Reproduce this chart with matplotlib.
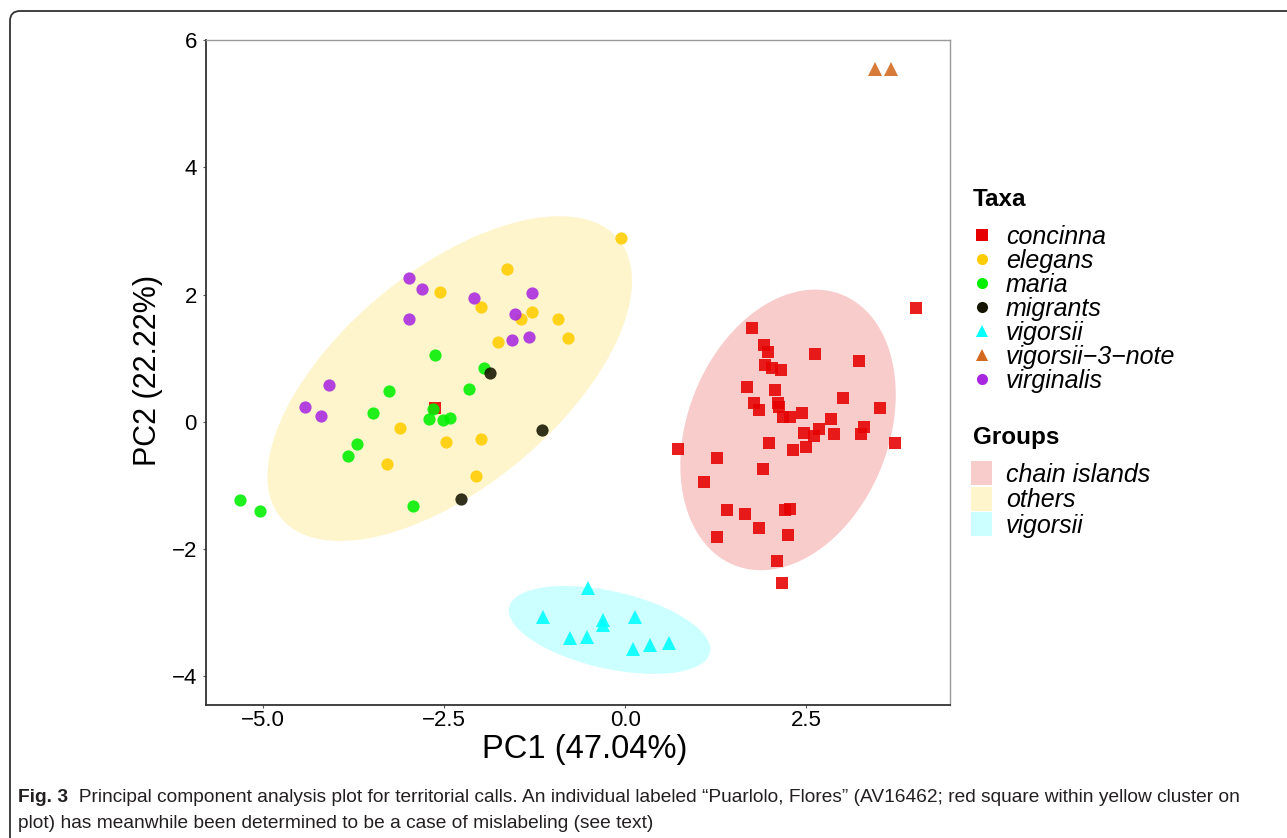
import numpy as np
import matplotlib
matplotlib.use("Agg")
import matplotlib.pyplot as plt
from matplotlib.lines import Line2D
from matplotlib.patches import Patch, Polygon, FancyBboxPatch
from matplotlib.transforms import IdentityTransform

# PCA scores, one pair of lists per taxon
concinna_x = [4.01, 1.75, 1.92, 1.97, 2.62, 3.23, 1.93, 2.02, 2.15, 1.68, 2.06, 3.01,
              1.78, 1.84, 2.11, 2.12, 3.51, 2.44, 2.18, 2.27, 2.84, 3.30, 3.25, 2.68,
              2.46, 2.60, 2.88, 3.72, 0.73, 1.99, 2.50, 2.31, 1.26, 1.90, 1.09, 1.40,
              1.65, 2.21, 2.28, 1.84, 1.27, 2.25, 2.09, 2.17]
concinna_y = [1.79, 1.47, 1.20, 1.10, 1.07, 0.95, 0.89, 0.85, 0.81, 0.55, 0.50, 0.37,
              0.29, 0.19, 0.29, 0.24, 0.21, 0.14, 0.07, 0.08, 0.04, -0.08, -0.19, -0.11,
              -0.18, -0.22, -0.19, -0.34, -0.43, -0.34, -0.39, -0.44, -0.57, -0.74, -0.94, -1.38,
              -1.45, -1.39, -1.37, -1.67, -1.81, -1.78, -2.19, -2.53]
# the mislabeled "Puarlolo, Flores" bird (red square inside the yellow cluster)
mislabeled_x = [-2.62]
mislabeled_y = [0.21]

elegans_x = [-0.06, -1.63, -2.55, -1.99, -1.29, -1.43, -0.92, -1.75, -0.79, -3.10,
             -2.47, -1.99, -3.29, -2.06]
elegans_y = [2.89, 2.40, 2.04, 1.80, 1.73, 1.61, 1.61, 1.26, 1.31, -0.10,
             -0.31, -0.27, -0.66, -0.85]

maria_x = [-2.62, -1.94, -3.26, -2.15, -3.48, -2.65, -2.71, -2.51, -2.41, -3.70,
           -3.82, -2.92, -5.31, -5.03]
maria_y = [1.05, 0.84, 0.48, 0.51, 0.14, 0.20, 0.05, 0.03, 0.06, -0.35,
           -0.54, -1.32, -1.23, -1.40]

migrants_x = [-1.87, -1.14, -2.27]
migrants_y = [0.77, -0.13, -1.21]

vigorsii_x = [-0.51, -1.13, -0.31, -0.30, 0.14, -0.76, -0.53, 0.11, 0.34, 0.60]
vigorsii_y = [-2.61, -3.07, -3.12, -3.20, -3.07, -3.40, -3.38, -3.57, -3.51, -3.48]

vig3_x = [3.44, 3.67]
vig3_y = [5.54, 5.54]

virginalis_x = [-2.98, -2.80, -2.98, -2.09, -1.29, -1.52, -1.56, -1.33, -4.08, -4.41, -4.20]
virginalis_y = [2.26, 2.08, 1.62, 1.94, 2.03, 1.69, 1.28, 1.34, 0.58, 0.24, 0.09]

taxa = ['concinna', 'elegans', 'maria', 'migrants', 'vigorsii', 'vigorsii\u22123\u2212note', 'virginalis']
taxa_colors = ['#e60000', '#ffcc00', '#00f000', '#141400', '#00ffff', '#d2691e', '#a828e0']
taxa_markers = ['s', 'o', 'o', 'o', '^', '^', 'o']
taxa_sizes = [9, 8.8, 8.8, 8.8, 10.5, 10.5, 8.8]

groups = ['chain islands', 'others', 'vigorsii']
group_colors = ['#f9cccc', '#fff5cc', '#ccffff']

xticks = [-5.0, -2.5, 0.0, 2.5]
yticks = [-4, -2, 0, 2, 4, 6]


def trob_ellipse(x, y, level=0.95, nu=5, segments=120):
    # roughly what ggplot's stat_ellipse(type = "t") does (MASS::cov.trob)
    X = np.column_stack([x, y])
    n, p = X.shape
    loc = X.mean(axis=0)
    w = np.ones(n)
    for _ in range(200):
        w0 = w
        D = X - loc
        S = (D * (w / w.sum())[:, None]).T @ D
        Q = np.einsum('ij,jk,ik->i', D, np.linalg.inv(S), D)
        w = (nu + p) / (nu + Q)
        loc = (w[:, None] * X).sum(axis=0) / w.sum()
        if np.all(np.abs(w - w0) < 1e-6):
            break
    D = X - loc
    cov = (D * w[:, None]).T @ D / n
    dfd = n - 1
    qf = dfd / 2.0 * ((1 - level) ** (-2.0 / dfd) - 1)
    radius = np.sqrt(2 * qf)
    t = np.linspace(0, 2 * np.pi, segments)
    circle = np.column_stack([np.cos(t), np.sin(t)])
    chol = np.linalg.cholesky(cov).T
    return loc + radius * circle @ chol


plt.rcParams['font.family'] = ['Liberation Sans', 'DejaVu Sans']

fig = plt.figure(figsize=(12.87, 8.38), dpi=100)
ax = fig.add_axes([206 / 1287, 1 - 705 / 838, 744 / 1287, 665 / 838])

group_pts = [
    (concinna_x, concinna_y),
    (elegans_x + maria_x + migrants_x + virginalis_x + mislabeled_x,
     elegans_y + maria_y + migrants_y + virginalis_y + mislabeled_y),
    (vigorsii_x, vigorsii_y),
]
for (gx, gy), col in zip(group_pts, group_colors):
    ell = trob_ellipse(gx, gy)
    ax.add_patch(Polygon(ell, closed=True, facecolor=col, edgecolor='none', zorder=1))

taxa_pts = [(concinna_x, concinna_y), (elegans_x, elegans_y), (maria_x, maria_y),
            (migrants_x, migrants_y), (vigorsii_x, vigorsii_y), (vig3_x, vig3_y),
            (virginalis_x, virginalis_y)]
for (tx, ty), col, mk, ms in zip(taxa_pts, taxa_colors, taxa_markers, taxa_sizes):
    ax.plot(tx, ty, linestyle='none', marker=mk, color=col, markersize=ms,
            markeredgewidth=0, alpha=0.88, zorder=3)
ax.plot(mislabeled_x, mislabeled_y, linestyle='none', marker='s', color=taxa_colors[0],
        markersize=9, markeredgewidth=0, alpha=0.88, zorder=2)

ax.set_xlim(-5.78, 4.48)
ax.set_ylim(-4.45, 6.0)
ax.set_xticks(xticks)
ax.set_xticklabels(['%.1f' % v if v >= 0 else '\u2212%.1f' % -v for v in xticks])
ax.set_yticks(yticks)
ax.tick_params(labelsize=16, length=2.5, color='#555555', labelcolor='black')
ax.tick_params(axis='x', pad=0.8)
ax.tick_params(axis='y', pad=4)
for side in ['left', 'bottom']:
    ax.spines[side].set_color('#333333')
    ax.spines[side].set_linewidth(1.3)
for side in ['top', 'right']:
    ax.spines[side].set_color('#999999')
    ax.spines[side].set_linewidth(1.0)
ax.set_xlabel('PC1 (47.04%)', fontsize=23.5)
ax.set_ylabel('PC2 (22.22%)', fontsize=22)
ax.xaxis.set_label_coords(0.509, -0.044, transform=ax.transAxes)
ax.xaxis.label.set_va('top')
ax.yaxis.set_label_coords(-0.058, 0.503, transform=ax.transAxes)

# legends: titles as plain text, entries via fig.legend
fig.text(973 / 1287, 1 - 200 / 838, 'Taxa', fontsize=17.5, fontweight='bold', va='center')
fig.text(973 / 1287, 1 - 437 / 838, 'Groups', fontsize=17.5, fontweight='bold', va='center')

taxa_handles = [Line2D([], [], linestyle='none', marker=mk, color=col,
                       markersize=(9 if mk == '^' else 8), markeredgewidth=0)
                for col, mk in zip(taxa_colors, taxa_markers)]
fig.legend(taxa_handles, taxa, loc='upper left',
           bbox_to_anchor=(971 / 1287, 1 - 225 / 838), frameon=False,
           prop={'style': 'italic', 'size': 18}, handlelength=0.9,
           handletextpad=0.5, labelspacing=0.0, borderpad=0, borderaxespad=0)

group_handles = [Patch(facecolor=c, edgecolor='none') for c in group_colors]
fig.legend(group_handles, groups, loc='upper left',
           bbox_to_anchor=(971 / 1287, 1 - 461 / 838), frameon=False,
           prop={'style': 'italic', 'size': 18}, handlelength=0.85,
           handleheight=1.1, handletextpad=0.55, labelspacing=0.0,
           borderpad=0, borderaxespad=0)

# caption underneath, as in the journal figure
cap_font = ['Liberation Sans Narrow', 'Liberation Sans', 'DejaVu Sans']
t1 = fig.text(18 / 1287, 1 - 806 / 838, 'Fig. 3', fontsize=13.8, fontweight='bold',
              family=cap_font, color='#231f20', va='bottom')
ax.annotate('  Principal component analysis plot for territorial calls. An individual labeled '
            '\u201cPuarlolo, Flores\u201d (AV16462; red square within yellow cluster on',
            xy=(1, 0), xycoords=t1, va='bottom', fontsize=13.8, family=cap_font,
            color='#231f20', annotation_clip=False)
fig.text(18 / 1287, 1 - 832 / 838,
         'plot) has meanwhile been determined to be a case of mislabeling (see text)',
         fontsize=13.8, family=cap_font, color='#231f20', va='bottom')

# rounded frame of the figure panel (only top and left edge visible)
frame = FancyBboxPatch((10, -20), 1400, 838 - 11 + 20,
                       boxstyle='round,pad=0,rounding_size=10',
                       transform=IdentityTransform(), facecolor='none',
                       edgecolor='#333333', linewidth=1.3)
fig.patches.append(frame)

fig.savefig('out.png', dpi=100)
